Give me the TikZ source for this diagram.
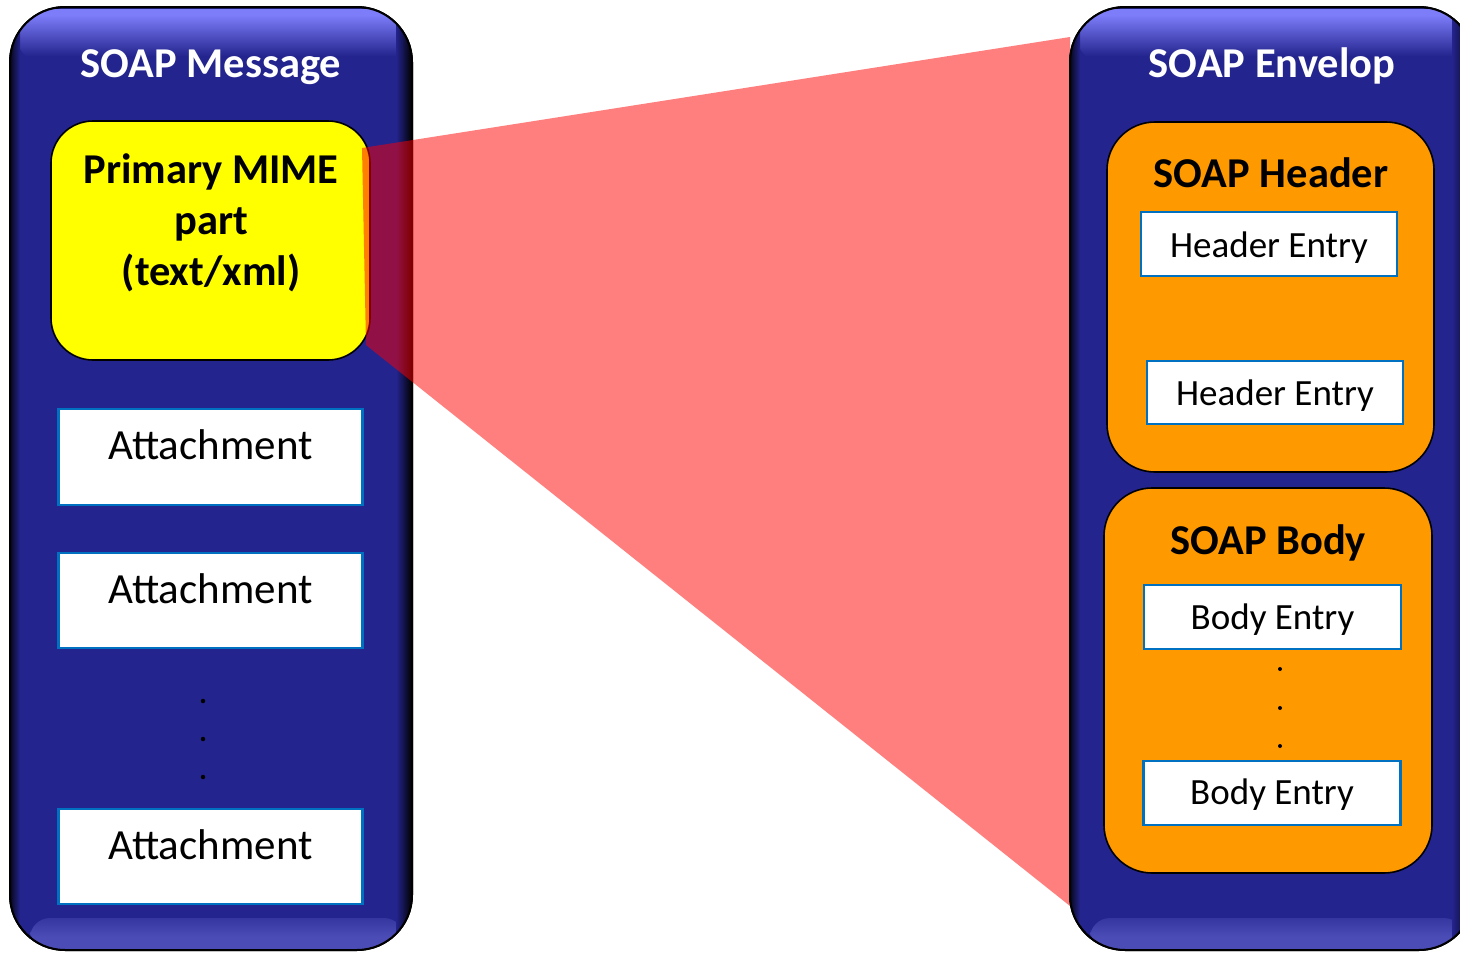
\documentclass[tikz,border=0pt]{standalone}
\usepackage{fontspec}
\setmainfont{Carlito}
\definecolor{panelc}{RGB}{36,36,142}
\definecolor{glossc}{RGB}{125,125,250}
\definecolor{lowc}{RGB}{76,76,182}
\definecolor{orangec}{RGB}{255,153,0}
\definecolor{yellowc}{RGB}{255,255,0}
\definecolor{entryc}{RGB}{0,112,192}
\pgfdeclareverticalshading{gloss}{100bp}{color(0bp)=(panelc); color(35bp)=(panelc); color(70bp)=(glossc); color(86bp)=(glossc); color(100bp)=(panelc!60!black)}
\pgfdeclareverticalshading{lowgloss}{100bp}{color(0bp)=(panelc!55!black); color(22bp)=(lowc); color(45bp)=(lowc); color(100bp)=(panelc)}
\tikzset{
  panel/.style={draw=black, line width=2pt, fill=panelc, rounded corners=55pt, inner sep=0pt},
  group/.style={draw=black, line width=1.6pt, fill=orangec, rounded corners=48pt, inner sep=0pt},
  entry/.style={draw=entryc, line width=2.2pt, fill=white, inner sep=0pt},
  title/.style={text=white, font=\fontsize{42.5}{50}\selectfont\bfseries, anchor=base, inner sep=0pt},
  head/.style={text=black, font=\fontsize{42.5}{50}\selectfont\bfseries, anchor=base, inner sep=0pt},
  small/.style={text=black, font=\fontsize{43}{50}\selectfont, anchor=base, inner sep=0pt},
  etext/.style={text=black, font=\fontsize{37}{44}\selectfont, anchor=base, inner sep=0pt},
  dot/.style={circle, fill=black, inner sep=0pt, minimum size=4.5pt},
  zoomcone/.style={fill=red, fill opacity=0.5, draw=none}
}
\begin{document}
\begin{tikzpicture}[x=1pt,y=-1pt]
\useasboundingbox (0,0) rectangle (1460,953);
\clip (0,0) rectangle (1460,953);

% ---- left panel: SOAP message ----
\node[panel, minimum width=402pt, minimum height=943pt] (msg) at (211,478.5) {};
\begin{scope}
  \clip[rounded corners=55pt] (10,7) rectangle (412,950);
  \shade[shading=gloss, rounded corners=40pt] (14,9) rectangle (408,68);
  \shade[shading=lowgloss, rounded corners=20pt] (30,918) rectangle (404,949);
  \shade[left color=panelc, right color=black] (396,7) rectangle (412,950);
  \shade[left color=black!80!panelc, right color=panelc] (10,7) rectangle (20,950);
\end{scope}
\draw[line width=2pt, rounded corners=55pt] (10,7) rectangle (412,950);
\node[title] (msgt) at (211,77) {SOAP Message};

\node[draw=black, line width=1.6pt, fill=yellowc, rounded corners=42pt, inner sep=0pt,
      minimum width=319pt, minimum height=239pt] (prim) at (210.5,240.5) {};
\node[head] (prim1) at (211,183) {Primary MIME};
\node[head] (prim2) at (211,234) {part};
\node[head] (prim3) at (211,285) {(text/xml)};

\node[entry, minimum width=304pt, minimum height=96pt] (att1) at (210.5,457) {};
\node[small] (att1t) at (210.5,459) {Attachment};
\node[entry, minimum width=304pt, minimum height=95pt] (att2) at (210.5,600.5) {};
\node[small] (att2t) at (210.5,603) {Attachment};
\node[entry, minimum width=304pt, minimum height=95pt] (att3) at (210.5,856.5) {};
\node[small] (att3t) at (210.5,859) {Attachment};

\node[dot] (ld1) at (203,701) {};
\node[dot] (ld2) at (203,739) {};
\node[dot] (ld3) at (203,777) {};

% ---- zoom cone from the primary part to the envelope ----
\coordinate (c1) at (362,148);
\coordinate (c2) at (1070,37);
\coordinate (c3) at (1070,906);
\coordinate (c4) at (366,345);
\fill[zoomcone] (c1) -- (c2) -- (c3) -- (c4) -- cycle;

% ---- right panel: SOAP envelope ----
\node[panel, minimum width=404pt, minimum height=943pt] (env) at (1272,478.5) {};
\begin{scope}
  \clip[rounded corners=55pt] (1070,7) rectangle (1474,950);
  \shade[shading=gloss, rounded corners=40pt] (1074,9) rectangle (1470,68);
  \shade[shading=lowgloss, rounded corners=20pt] (1090,918) rectangle (1464,949);
  \shade[left color=panelc, right color=black] (1452,7) rectangle (1474,950);
  \shade[left color=black!80!panelc, right color=panelc] (1070,7) rectangle (1080,950);
\end{scope}
\draw[line width=2pt, rounded corners=55pt] (1070,7) rectangle (1474,950);
\node[title] (envt) at (1272,77) {SOAP Envelop};

\node[group, minimum width=327pt, minimum height=350pt] (hdr) at (1270.5,297) {};
\node[head] (hdrt) at (1271,187) {SOAP Header};
\node[entry, minimum width=256pt, minimum height=64pt] (he1) at (1269,244) {};
\node[etext] (he1t) at (1269,257) {Header Entry};
\node[entry, minimum width=256pt, minimum height=63pt] (he2) at (1275,392.5) {};
\node[etext] (he2t) at (1275,405) {Header Entry};

\node[group, minimum width=328pt, minimum height=385pt] (body) at (1268,680.5) {};
\node[head] (bodyt) at (1268,554) {SOAP Body};
\node[entry, minimum width=257pt, minimum height=64pt] (be1) at (1272.5,617) {};
\node[etext] (be1t) at (1272.5,629) {Body Entry};
\node[entry, minimum width=257pt, minimum height=64pt] (be2) at (1272,793) {};
\node[etext] (be2t) at (1272,804) {Body Entry};

\node[dot, minimum size=4pt] (rd1) at (1280,669) {};
\node[dot, minimum size=4pt] (rd2) at (1280,708) {};
\node[dot, minimum size=4pt] (rd3) at (1280,746) {};
\end{tikzpicture}
\end{document}
